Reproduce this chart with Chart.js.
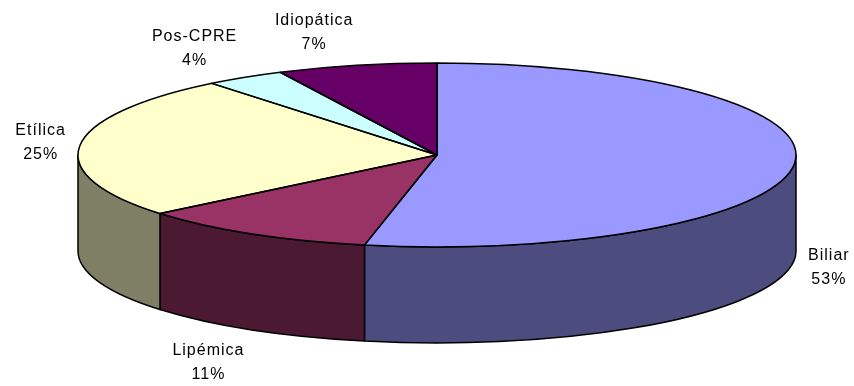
<!DOCTYPE html>
<html>
<head>
<meta charset="utf-8">
<script src="https://cdn.jsdelivr.net/npm/chart.js@4"></script>
<style>
    html, body { margin: 0; padding: 0; background: #fff; }
</style>
</head>
<body>
<canvas id="pieChart" width="854" height="386"></canvas>
<script>
// Data
const categories = ['Biliar', 'Lipémica', 'Etílica', 'Pos-CPRE', 'Idiopática'];
const cases = [74, 15, 35, 5, 10];
const topColors = ['#9999FF', '#993366', '#FFFFCC', '#CCFFFF', '#660066'];
const sideColors = ['#4C4C7F', '#4C1933', '#7F7F66', '#667F7F', '#330033'];

// Ellipse geometry of the tilted pie
const CX = 437, CY = 155, RX = 359, RY = 92, DEPTH = 96;
const LABEL_FONT = '16px "Liberation Sans", Arial, sans-serif';

// Fake 3D: side walls, squashed top, outlines and labels
const pie3d = {
    id: 'pie3d',
    beforeDatasetsDraw(chart) {
        const ctx = chart.ctx;
        const arcs = chart.getDatasetMeta(0).data;

        ctx.save();
        ctx.lineWidth = 1.5;
        ctx.strokeStyle = '#000';
        ctx.lineJoin = 'round';
        arcs.forEach((arc, i) => {
            const a0 = Math.max(arc.startAngle, 0);
            const a1 = Math.min(arc.endAngle, Math.PI);
            if (a1 <= a0) return;
            ctx.beginPath();
            ctx.ellipse(CX, CY, RX, RY, 0, a0, a1);
            ctx.lineTo(CX + RX * Math.cos(a1), CY + RY * Math.sin(a1) + DEPTH);
            ctx.ellipse(CX, CY + DEPTH, RX, RY, 0, a1, a0, true);
            ctx.closePath();
            ctx.fillStyle = sideColors[i];
            ctx.fill();
            ctx.stroke();
        });
        ctx.restore();

        // squash the library's circle into the top ellipse
        const first = arcs[0];
        const r = first.outerRadius;
        ctx.save();
        ctx.translate(CX, CY);
        ctx.scale(RX / r, RY / r);
        ctx.translate(-first.x, -first.y);
    },
    afterDatasetsDraw(chart) {
        const ctx = chart.ctx;
        ctx.restore();

        const arcs = chart.getDatasetMeta(0).data;
        const total = cases.reduce((a, b) => a + b, 0);

        ctx.save();
        ctx.lineWidth = 1.5;
        ctx.strokeStyle = '#000';
        ctx.lineJoin = 'round';
        arcs.forEach(arc => {
            ctx.beginPath();
            ctx.moveTo(CX, CY);
            ctx.lineTo(CX + RX * Math.cos(arc.startAngle), CY + RY * Math.sin(arc.startAngle));
            ctx.ellipse(CX, CY, RX, RY, 0, arc.startAngle, arc.endAngle);
            ctx.closePath();
            ctx.stroke();
        });

        ctx.font = LABEL_FONT;
        ctx.letterSpacing = '1px';
        ctx.fillStyle = '#000';
        ctx.textAlign = 'center';
        ctx.textBaseline = 'middle';
        arcs.forEach((arc, i) => {
            const mid = (arc.startAngle + arc.endAngle) / 2;
            const c = Math.cos(mid), s = Math.sin(mid);
            const pct = Math.round(cases[i] / total * 100) + '%';
            const w = Math.max(ctx.measureText(categories[i]).width, ctx.measureText(pct).width);
            const px = CX + (RX + 14) * c;
            const py = CY + (RY + 14) * s + (s > 0 ? DEPTH + 4 : 0);
            const x = px + Math.sign(c) * w / 2;
            const y = py + s * 20;
            ctx.fillText(categories[i], x, y - 12);
            ctx.fillText(pct, x, y + 12);
        });
        ctx.restore();
    }
};

document.addEventListener('DOMContentLoaded', function() {
    const ctx = document.getElementById('pieChart').getContext('2d');
    new Chart(ctx, {
        type: 'pie',
        data: {
            labels: categories,
            datasets: [{
                data: cases,
                backgroundColor: topColors,
                borderWidth: 0,
                clip: false
            }]
        },
        options: {
            responsive: false,
            animation: false,
            layout: { padding: 0 },
            plugins: {
                legend: { display: false },
                tooltip: { enabled: false }
            }
        },
        plugins: [pie3d]
    });
});
</script>
</body>
</html>
